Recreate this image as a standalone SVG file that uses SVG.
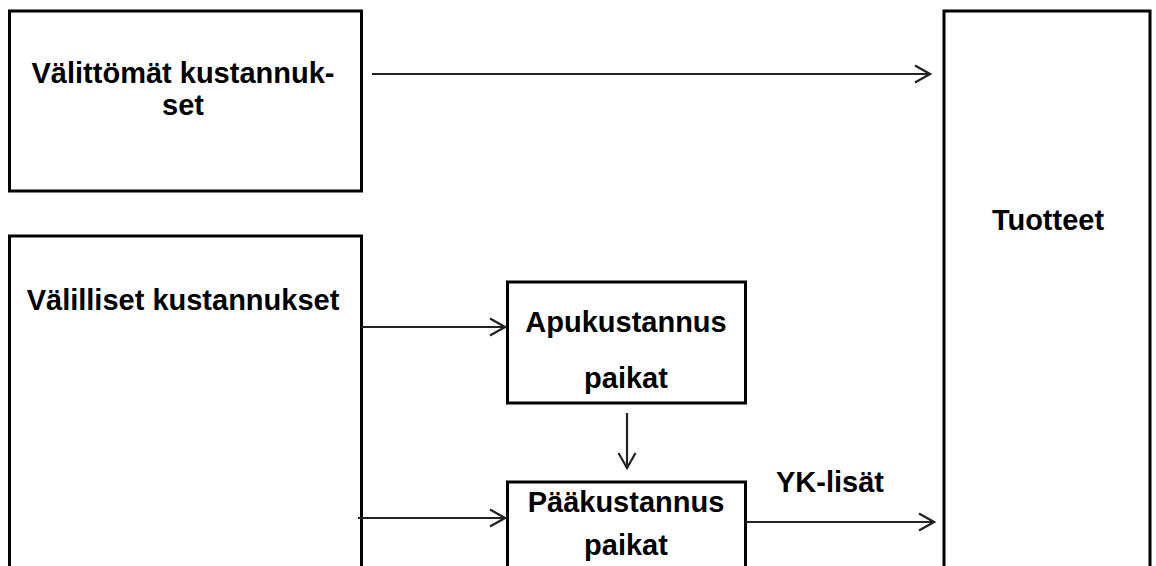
<svg xmlns="http://www.w3.org/2000/svg" width="1156" height="566" viewBox="0 0 1156 566">
<defs>
<style>
.box{fill:#fff;stroke:#000;stroke-width:3}
.lbl{font-family:"Liberation Sans",Arial,sans-serif;font-weight:bold;font-size:29px;fill:#000;text-anchor:middle}
.con{stroke:#222;stroke-width:2.2;fill:none;marker-end:url(#arr)}
</style>
<marker id="arr" viewBox="-18 -11 20 22" markerWidth="20" markerHeight="22" refX="0" refY="0" orient="auto" markerUnits="userSpaceOnUse">
<path d="M-15,-8.5 L0,0 L-15,8.5" fill="none" stroke="#222" stroke-width="2.2"/>
</marker>
</defs>
<rect width="1156" height="566" fill="#fff"/>
<g id="valittomat">
<rect class="box" x="9.5" y="11" width="352" height="180"/>
<text class="lbl" x="183" y="83">Välittömät kustannuk-</text>
<text class="lbl" x="183" y="115">set</text>
</g>
<g id="valilliset">
<rect class="box" x="9.5" y="236" width="352" height="340"/>
<text class="lbl" x="183" y="310">Välilliset kustannukset</text>
</g>
<g id="apukustannus">
<rect class="box" x="507.5" y="282" width="238" height="121"/>
<text class="lbl" x="626" y="332">Apukustannus</text>
<text class="lbl" x="626" y="388">paikat</text>
</g>
<g id="paakustannus">
<rect class="box" x="507.5" y="482" width="238" height="100"/>
<text class="lbl" x="626" y="512">Pääkustannus</text>
<text class="lbl" x="626" y="555">paikat</text>
</g>
<g id="tuotteet">
<rect class="box" x="944" y="11" width="206" height="570"/>
<text class="lbl" x="1048" y="230">Tuotteet</text>
</g>
<g id="connectors">
<line class="con" x1="372" y1="74" x2="930" y2="74"/>
<line class="con" x1="361" y1="327" x2="505" y2="327"/>
<line class="con" x1="627" y1="413" x2="627" y2="468"/>
<line class="con" x1="358" y1="518" x2="505" y2="518"/>
<line class="con" x1="745" y1="522" x2="934" y2="522"/>
<text class="lbl" x="830" y="492">YK-lisät</text>
</g>
</svg>
